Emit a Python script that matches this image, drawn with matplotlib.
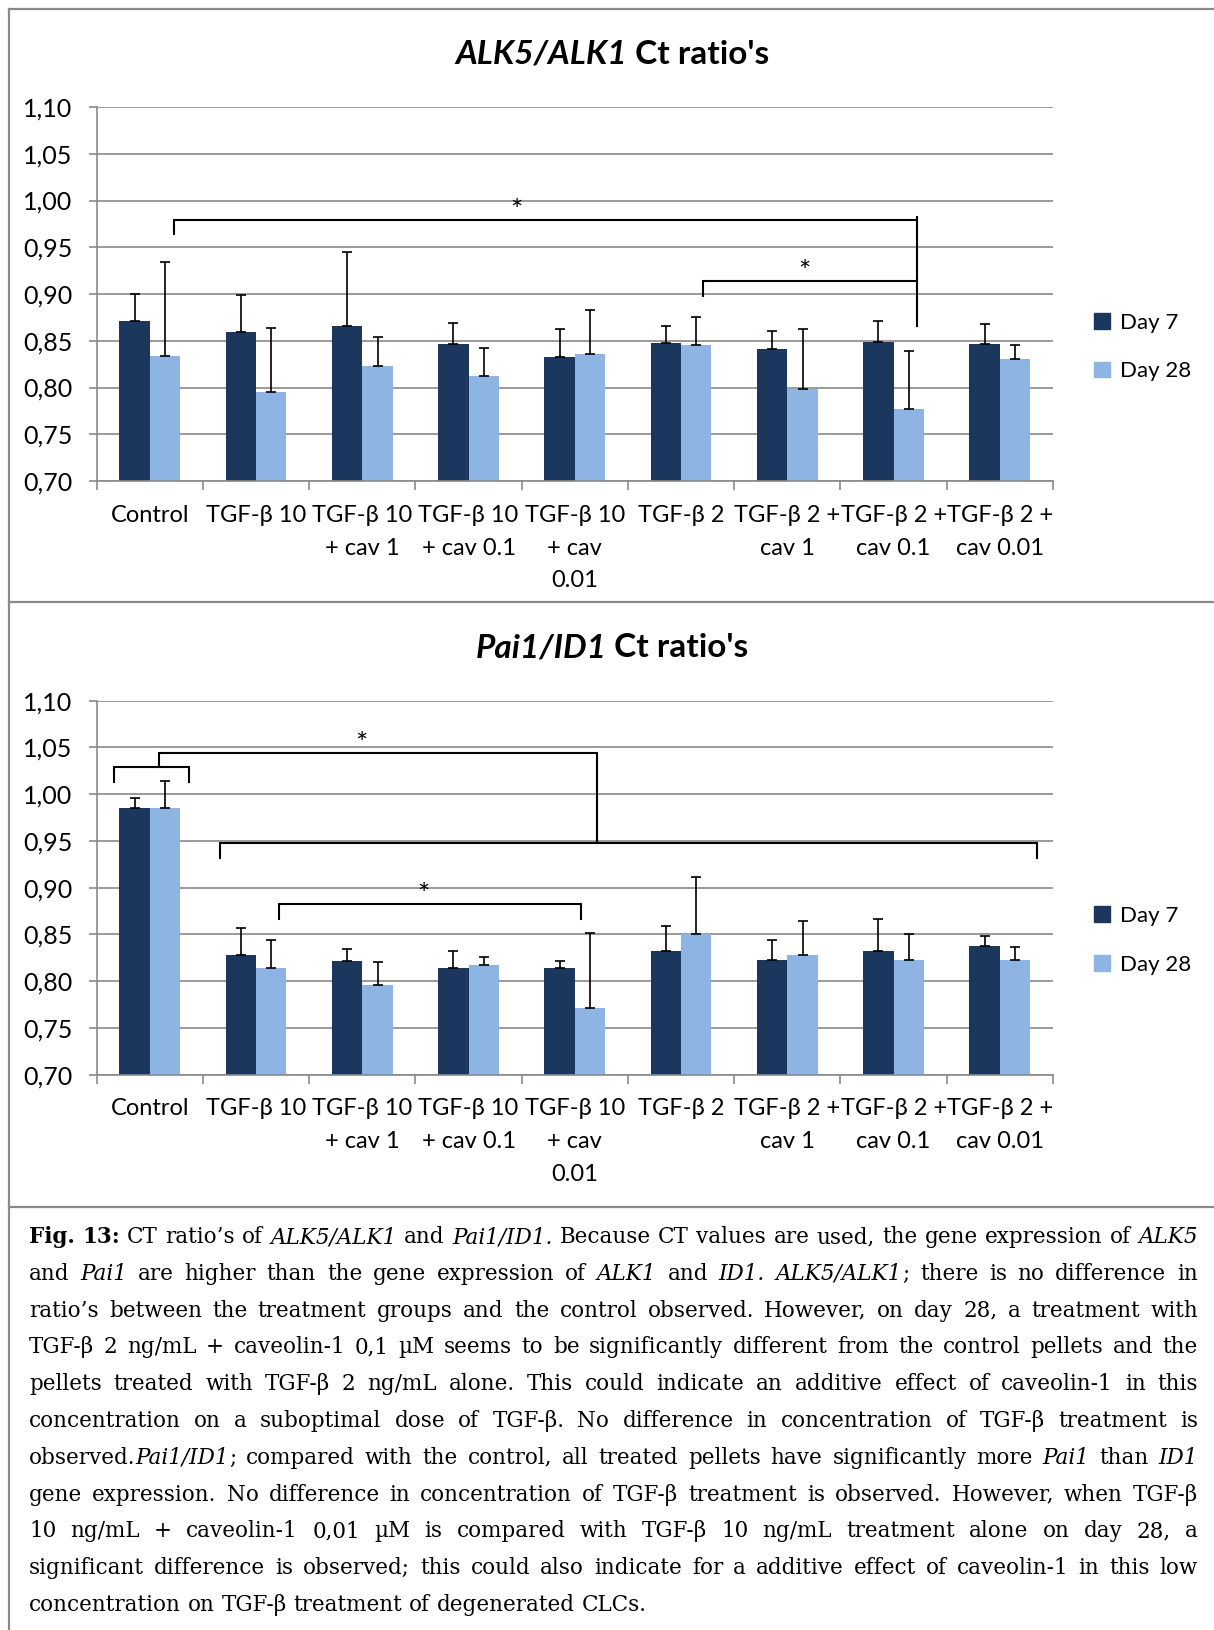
import matplotlib
matplotlib.use('Agg')
import matplotlib.pyplot as plt
from matplotlib.patches import Patch
from matplotlib.lines import Line2D
from matplotlib.ticker import FuncFormatter
import numpy as np

plt.rcParams['font.family'] = ['Lato', 'DejaVu Sans']

categories = ['Control', 'TGF-β 10', 'TGF-β 10\n+ cav 1', 'TGF-β 10\n+ cav 0.1',
              'TGF-β 10\n+ cav\n0.01', 'TGF-β 2', 'TGF-β 2 +\ncav 1',
              'TGF-β 2 +\ncav 0.1', 'TGF-β 2 +\ncav 0.01']
series_names = ['Day 7', 'Day 28']

# ALK5/ALK1 Ct ratios (mean and upper error)
alk_day7 = [0.871, 0.859, 0.866, 0.846, 0.833, 0.848, 0.841, 0.849, 0.846]
alk_day7_err = [0.029, 0.040, 0.079, 0.023, 0.030, 0.018, 0.019, 0.022, 0.022]
alk_day28 = [0.834, 0.795, 0.823, 0.812, 0.836, 0.845, 0.798, 0.777, 0.830]
alk_day28_err = [0.100, 0.069, 0.031, 0.030, 0.047, 0.030, 0.065, 0.062, 0.015]

# Pai1/ID1 Ct ratios
pai_day7 = [0.985, 0.828, 0.822, 0.814, 0.814, 0.832, 0.823, 0.832, 0.838]
pai_day7_err = [0.011, 0.029, 0.012, 0.018, 0.008, 0.027, 0.021, 0.035, 0.010]
pai_day28 = [0.985, 0.814, 0.796, 0.817, 0.771, 0.850, 0.828, 0.823, 0.823]
pai_day28_err = [0.029, 0.030, 0.025, 0.009, 0.081, 0.061, 0.036, 0.027, 0.014]

# significance brackets (x in category units, y in ratio units) and stars
alk_brackets = [([0.23, 0.23, 7.22, 7.22], [0.964, 0.979, 0.979, 0.866]),
                ([7.22, 7.22], [0.979, 0.982]),
                ([5.21, 5.21, 7.22], [0.898, 0.914, 0.914])]
alk_stars = [(3.45, 0.988), (6.16, 0.922)]
pai_brackets = [([-0.34, -0.34, 0.37, 0.37], [1.0125, 1.029, 1.029, 1.0125]),
                ([0.09, 0.09, 4.21, 4.21], [1.029, 1.0445, 1.0445, 0.948]),
                ([0.66, 0.66, 8.345, 8.345], [0.932, 0.948, 0.948, 0.932]),
                ([1.22, 1.22, 4.06, 4.06], [0.867, 0.8825, 0.8825, 0.867])]
pai_stars = [(1.99, 1.052), (2.57, 0.891)]

caption_lines = [
    "#Fig. 13:# CT ratio’s of _ALK5/ALK1_ and _Pai1/ID1._ Because CT values are used, the gene expression of _ALK5_",
    "and _Pai1_ are higher than the gene expression of _ALK1_ and _ID1. ALK5/ALK1_; there is no difference in",
    "ratio’s between the treatment groups and the control observed. However, on day 28, a treatment with",
    "TGF-β 2 ng/mL + caveolin-1 0,1 µM seems to be significantly different from the control pellets and the",
    "pellets treated with TGF-β 2 ng/mL alone. This could indicate an additive effect of caveolin-1 in this",
    "concentration on a suboptimal dose of TGF-β. No difference in concentration of TGF-β treatment is",
    "observed._Pai1/ID1_; compared with the control, all treated pellets have significantly more _Pai1_ than _ID1_",
    "gene expression. No difference in concentration of TGF-β treatment is observed. However, when TGF-β",
    "10 ng/mL + caveolin-1 0,01 µM is compared with TGF-β 10 ng/mL treatment alone on day 28, a",
    "significant difference is observed; this could also indicate for a additive effect of caveolin-1 in this low",
    "concentration on TGF-β treatment of degenerated CLCs.",
]

W, H = 1214, 1630
dark = '#1b375e'
light = '#8eb4e3'
grey = '#8a8a8a'


def fx(px):
    return px / W


def fy(py):
    return 1 - py / H


fig = plt.figure(figsize=(W / 100, H / 100), dpi=100)
renderer = fig.canvas.get_renderer()


def draw_chart(top, bottom, d7, e7, d28, e28, brackets, stars, title_it, legend_y):
    ax = fig.add_axes([fx(96.7), fy(bottom), fx(1053) - fx(96.7), (bottom - top) / H])
    x = np.arange(len(categories))
    bw = 0.286
    ax.bar(x - bw / 2, d7, bw, color=dark, zorder=2)
    ax.bar(x + bw / 2, d28, bw, color=light, zorder=2)
    ax.errorbar(x - bw / 2, d7, yerr=[np.zeros(len(x)), e7], fmt='none',
                ecolor='black', elinewidth=1.2, capsize=3.8, capthick=1.2, zorder=3)
    ax.errorbar(x + bw / 2, d28, yerr=[np.zeros(len(x)), e28], fmt='none',
                ecolor='black', elinewidth=1.2, capsize=3.8, capthick=1.2, zorder=3)
    for bx, by in brackets:
        ax.plot(bx, by, color='black', lw=1.5, clip_on=False, zorder=4,
                solid_joinstyle='miter')
    for sx, sy in stars:
        ax.text(sx, sy, '*', ha='center', va='center', fontsize=21, zorder=4)

    ax.set_xlim(-0.5, 8.5)
    ax.set_ylim(0.70, 1.10)
    ax.set_yticks(np.arange(0.70, 1.101, 0.05))
    ax.yaxis.set_major_formatter(FuncFormatter(lambda v, _: f'{v:.2f}'.replace('.', ',')))
    ax.set_xticks(np.arange(-0.5, 9, 1))
    ax.set_xticklabels([])
    ax.set_xticks(x, categories, minor=True)
    ax.tick_params(axis='x', which='major', length=6.5, width=1.2, color=grey)
    ax.tick_params(axis='x', which='minor', length=0, pad=17, labelsize=17)
    ax.tick_params(axis='y', length=5.5, width=1.2, color=grey, pad=12, labelsize=18)
    for lab in ax.get_xticklabels(minor=True):
        lab.set_linespacing(1.7)
    ax.set_axisbelow(True)
    ax.yaxis.grid(True, color=grey, lw=1.2)
    for side in ['top', 'right']:
        ax.spines[side].set_visible(False)
    for side in ['left', 'bottom']:
        ax.spines[side].set_color(grey)
        ax.spines[side].set_linewidth(1.2)

    ax.legend(handles=[Patch(color=dark), Patch(color=light)], labels=series_names,
              loc='center left', bbox_to_anchor=(fx(1094), fy(legend_y + 1.5)),
              bbox_transform=fig.transFigure, frameon=False, fontsize=16,
              handlelength=0.7, handleheight=0.7, handletextpad=0.45,
              labelspacing=1.3, borderpad=0, borderaxespad=0)

    # title: italic gene names followed by plain bold text
    t1 = fig.text(0, 0, title_it, fontsize=24, fontweight='bold', style='italic', va='center')
    t2 = fig.text(0, 0, " Ct ratio's", fontsize=24, fontweight='bold', va='center')
    w1 = t1.get_window_extent(renderer).width
    w2 = t2.get_window_extent(renderer).width
    ty = top - 53
    t1.set_position((fx(612 - (w1 + w2) / 2), fy(ty)))
    t2.set_position((fx(612 - (w1 + w2) / 2 + w1), fy(ty)))
    return ax


draw_chart(107, 481, alk_day7, alk_day7_err, alk_day28, alk_day28_err,
           alk_brackets, alk_stars, 'ALK5/ALK1', 345.5)
draw_chart(700.6, 1074.7, pai_day7, pai_day7_err, pai_day28, pai_day28_err,
           pai_brackets, pai_stars, 'Pai1/ID1', 938.6)

# frame lines around the panels
for xs, ys in [([8.5, W], [8.5, 8.5]), ([8.5, 8.5], [8.5, H]),
               ([8.5, W], [602, 602]), ([8.5, W], [1207, 1207])]:
    fig.add_artist(Line2D([fx(v) for v in xs], [fy(v) for v in ys],
                          transform=fig.transFigure, color=grey, lw=1.6))


def words_of(line):
    words, cur, buf, style = [], [], '', 'r'
    for ch in line:
        if ch in '_#':
            if buf:
                cur.append((buf, style))
                buf = ''
            if style == 'r':
                style = 'i' if ch == '_' else 'b'
            else:
                style = 'r'
        elif ch == ' ':
            if buf:
                cur.append((buf, style))
                buf = ''
            if cur:
                words.append(cur)
                cur = []
        else:
            buf += ch
    if buf:
        cur.append((buf, style))
    if cur:
        words.append(cur)
    return words


# justified caption; font size chosen so the longest line just fits
left, right = 29, 1198
base0, step = 1243, 36.8


def caption_texts(size):
    rows = []
    for i, line in enumerate(caption_lines):
        yb = base0 + i * step
        row = []
        for word in words_of(line):
            runs = []
            for txt, st in word:
                t = fig.text(0, fy(yb), txt, fontsize=size, family='DejaVu Serif',
                             style='italic' if st == 'i' else 'normal',
                             fontweight='bold' if st == 'b' else 'normal', va='baseline')
                runs.append((t, t.get_window_extent(renderer).width))
            row.append(runs)
        rows.append(row)
    return rows


def natural_width(row, size):
    space = size * 100 / 72 * 0.318
    return sum(w for runs in row for _, w in runs) + space * (len(row) - 1)


size = 15.0
rows = caption_texts(size)
widest = max(natural_width(r, size) for r in rows[:-1])
new_size = min(16.5, size * (right - left) / widest * 0.995)
for row in rows:
    for runs in row:
        for t, _ in runs:
            t.remove()
size = new_size
rows = caption_texts(size)

for i, row in enumerate(rows):
    widths = [sum(w for _, w in runs) for runs in row]
    if i < len(rows) - 1:
        gap = (right - left - sum(widths)) / (len(widths) - 1)
    else:
        gap = size * 100 / 72 * 0.318
    xpos = left
    for runs, wsum in zip(row, widths):
        xr = xpos
        for t, w in runs:
            t.set_x(fx(xr))
            xr += w
        xpos += wsum + gap

fig.savefig('out.png', dpi=100)
